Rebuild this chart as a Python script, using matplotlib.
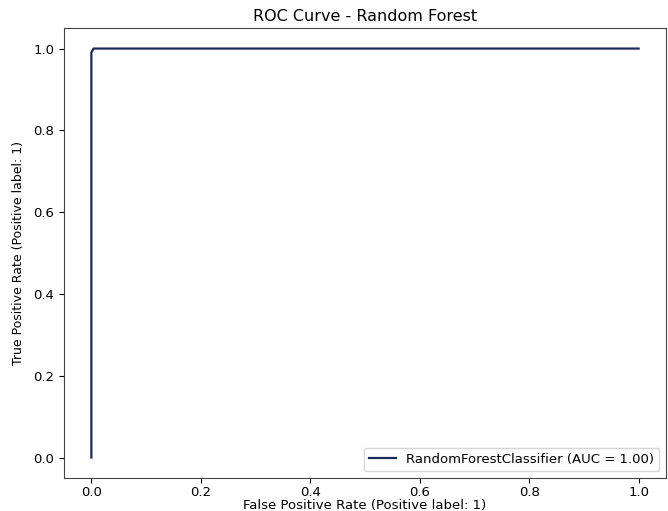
import matplotlib
matplotlib.use("Agg")
import matplotlib.pyplot as plt

# ROC points
fpr = [0.0, 0.0, 0.004, 1.0]
tpr = [0.0, 0.99, 1.0, 1.0]
auc_value = 1.00

fig = plt.figure(figsize=(6.68, 5.11), dpi=100)
ax = fig.add_axes([0.0958, 0.0646, 0.9012, 0.8804])

ax.plot(fpr, tpr, color="#1b2a5c", linewidth=1.6,
        label=f"RandomForestClassifier (AUC = {auc_value:.2f})")

ax.set_title("ROC Curve - Random Forest", fontsize=11.5, pad=5)
ax.set_xlabel("False Positive Rate (Positive label: 1)", fontsize=9.5, labelpad=0)
ax.set_ylabel("True Positive Rate (Positive label: 1)", fontsize=9, labelpad=6)
ax.tick_params(labelsize=9.5)
ax.tick_params(axis="x", pad=2)
for s in ax.spines.values():
    s.set_color("#444444")
ax.legend(loc="lower right", fontsize=9.5)

fig.savefig("out.png", dpi=100)
